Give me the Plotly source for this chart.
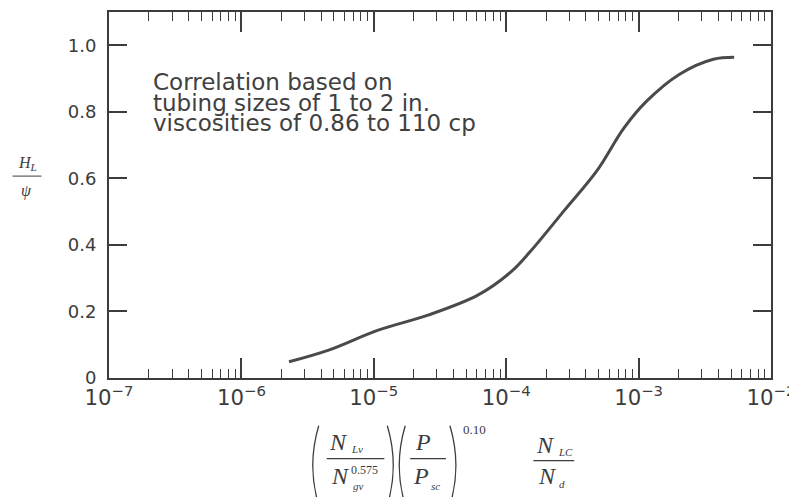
import plotly.graph_objects as go

# ---- data ----
x_vals = [2.29e-6, 4.56e-6, 1.08e-5, 2.57e-5, 6.1e-5, 1.08e-4, 1.52e-4,
          2.74e-4, 4.85e-4, 7.74e-4, 1.15e-3, 2.04e-3, 3.67e-3, 5.27e-3]
y_vals = [0.049, 0.084, 0.144, 0.189, 0.249, 0.318, 0.380,
          0.503, 0.623, 0.751, 0.832, 0.913, 0.958, 0.964]

y_tickvals = [0, 0.2, 0.4, 0.6, 0.8, 1.0]
y_ticktext = ["0", "0.2", "0.4", "0.6", "0.8", "1.0"]

note_lines = ["Correlation based on",
              "tubing sizes of 1 to 2 in.",
              "viscosities of 0.86 to 110 cp"]

# ---- layout geometry (pixels); page body has an 8px margin ----
OFF = 8
W, H = 797 - OFF, 497 - OFF
L, R, T, B = 109 - OFF, 22, 10 - OFF, 119
PW, PH = W - L - R, H - T - B
X0, Y0 = 109, 378  # screen position of plot's bottom-left corner


def px(x):
    return (x - X0) / PW


def py(y):
    return (Y0 - y) / PH


INK = "#3c3c3c"
SERIF = "Liberation Serif, Times New Roman, serif"
SANS = "DejaVu Sans, Arial, sans-serif"

fig = go.Figure()
fig.add_trace(go.Scatter(
    x=x_vals, y=y_vals, mode="lines",
    line=dict(color="#4a4a4a", width=3, shape="spline", smoothing=1.0),
    showlegend=False, hoverinfo="skip"))

annotations = []
shapes = []


def txt(text, x, y, size, family=SERIF, xanchor="center", yanchor="middle", color=INK):
    annotations.append(dict(text=text, x=px(x), y=py(y), xref="paper", yref="paper",
                            showarrow=False, xanchor=xanchor, yanchor=yanchor,
                            font=dict(family=family, size=size, color=color),
                            borderpad=0))


def hline(x0, x1, y, width=1.3):
    shapes.append(dict(type="line", xref="paper", yref="paper",
                       x0=px(x0), x1=px(x1), y0=py(y), y1=py(y),
                       line=dict(color=INK, width=width)))


def paren(xe, xm, y0, y1):
    ym = (y0 + y1) / 2
    path = f"M {px(xe)},{py(y0)} Q {px(xm)},{py(ym)} {px(xe)},{py(y1)}"
    shapes.append(dict(type="path", xref="paper", yref="paper", path=path,
                       line=dict(color=INK, width=1.3)))


# annotation block in the plot
for i, line in enumerate(note_lines):
    txt(line, 152, 80 + 21 * i, 23, family=SANS, xanchor="left", color="#404040")

# y-axis title: H_L / psi
txt("<i>H</i><sub><i>L</i></sub>", 27, 162, 16)
hline(12, 41, 175, 1.0)
txt("<i>ψ</i>", 26, 190, 16)

# x-axis title formula
ny, by, dy = 442, 459, 477
# group 1
paren(320, 308, 426, 506)
txt("<i>N</i>", 340, ny, 24)
txt("<i>Lv</i>", 351, ny + 7, 11, xanchor="left")
hline(328, 386, by)
txt("<i>N</i>", 342, dy, 24)
txt("0.575", 351, dy - 7, 12, xanchor="left")
txt("<i>gv</i>", 353, dy + 10, 11, xanchor="left")
paren(389, 401, 426, 506)
# group 2
paren(407, 395, 426, 506)
txt("<i>P</i>", 425, ny, 24)
hline(412, 448, by)
txt("<i>P</i>", 423, dy, 24)
txt("<i>sc</i>", 432, dy + 10, 11, xanchor="left")
paren(452, 464, 426, 506)
txt("0.10", 464, 430, 13, xanchor="left")
# group 3
txt("<i>N</i>", 548, ny + 3, 24)
txt("<i>LC</i>", 560, ny + 10, 11, xanchor="left")
hline(536, 577, by + 2)
txt("<i>N</i>", 550, dy, 24)
txt("<i>d</i>", 561, dy + 8, 11, xanchor="left")

fig.update_layout(
    width=W, height=H, autosize=False,
    margin=dict(l=L, r=R, t=T, b=B, pad=0),
    paper_bgcolor="white", plot_bgcolor="white",
    font=dict(family=SANS, color=INK),
    annotations=annotations, shapes=shapes,
    xaxis=dict(type="log", range=[-7, -1.99999], dtick=1, exponentformat="power",
               showgrid=False, zeroline=False,
               showline=True, linecolor=INK, linewidth=2, mirror="ticks",
               ticks="inside", ticklen=20, tickwidth=1.5, tickcolor=INK,
               minor=dict(ticks="inside", ticklen=9, tickwidth=1.3, tickcolor=INK,
                          dtick="D1", showgrid=False),
               tickfont=dict(family=SANS, size=17, color=INK),
               ticklabelstandoff=0, ticklabeloverflow="allow"),
    yaxis=dict(range=[0, 1.1], tickmode="array", tickvals=y_tickvals, ticktext=y_ticktext,
               showgrid=False, zeroline=False,
               showline=True, linecolor=INK, linewidth=2, mirror="ticks",
               ticks="inside", ticklen=18, tickwidth=2, tickcolor=INK,
               tickfont=dict(family=SANS, size=18, color=INK),
               ticklabelstandoff=7),
)

fig.write_html("out.html")
